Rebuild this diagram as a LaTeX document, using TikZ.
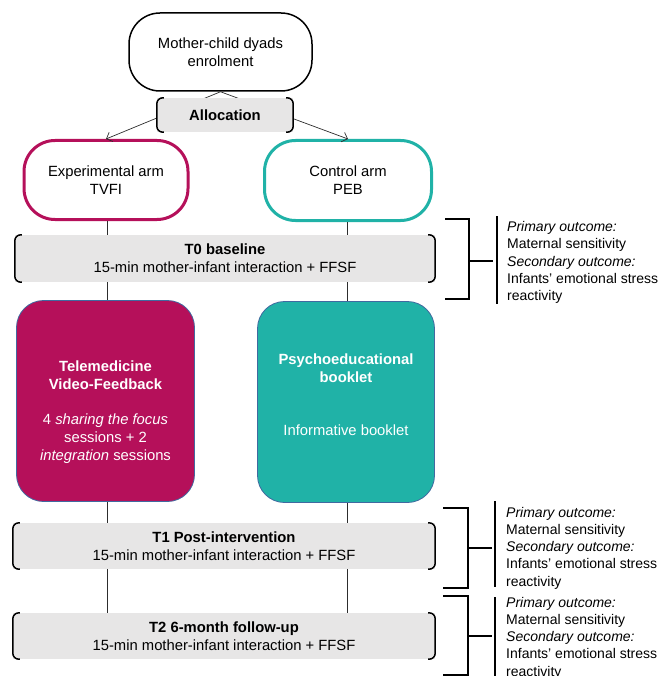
\documentclass[tikz,border=0pt]{standalone}
\usepackage{fontspec}
\setmainfont{Liberation Sans}
\usetikzlibrary{arrows.meta}
\definecolor{mag}{RGB}{181,16,90}
\definecolor{tealc}{RGB}{32,178,167}
\definecolor{outl}{RGB}{65,105,160}
\definecolor{gbg}{RGB}{231,230,230}
\definecolor{lin}{RGB}{45,45,45}
\newcommand\dbrk[1]{%
  \draw[brk] ([xshift=7pt]#1.north west) -- (#1.north west) -- (#1.south west) -- ([xshift=7pt]#1.south west);
  \draw[brk] ([xshift=-7pt]#1.north east) -- (#1.north east) -- (#1.south east) -- ([xshift=-7pt]#1.south east);}
\tikzset{
  mainfont/.style={font=\fontsize{14.8pt}{18pt}\selectfont},
  enrbox/.style={draw=black, line width=1.5pt, rounded corners=31pt, minimum width=183pt, minimum height=78pt, align=center, inner sep=0pt},
  armbox/.style={line width=3pt, rounded corners=31pt, minimum width=164pt, minimum height=79pt, align=center, inner sep=0pt},
  gbox/.style={fill=gbg, inner sep=0pt, align=center},
  brk/.style={line width=1.5pt, black, rounded corners=6pt},
  intbox/.style={draw=outl, line width=0.8pt, rounded corners=27pt, minimum width=178pt, minimum height=201pt, inner sep=0pt},
  wtxt/.style={text=white, align=center, inner sep=0pt},
  arr/.style={draw=lin, line width=0.7pt, -{Straight Barb[length=5pt,width=10pt]}},
  con/.style={draw=lin, line width=0.8pt},
  obrk/.style={line width=1.8pt, black},
  otxt/.style={anchor=west, align=left, inner sep=0pt, font=\fontsize{14pt}{17.2pt}\selectfont}
}
\begin{document}
\begin{tikzpicture}[x=1pt, y={(0pt,-1pt)}, mainfont]
\useasboundingbox (0,0) rectangle (662,676);
\clip (0,0) rectangle (662,676);
\coordinate (cl) at (107,0);
\coordinate (cr) at (347,0);

\node[enrbox] (enr) at (220.5,52) {Mother-child dyads\\enrolment};
\node[armbox, draw=mag] (exp) at (106,180) {Experimental arm\\TVFI};
\node[armbox, draw=tealc, minimum width=167pt, minimum height=80pt] (ctl) at (348,180.5) {Control arm\\PEB};

\draw[arr] (enr.south) -- (exp.north);
\draw[arr] (enr.south) -- (ctl.north);

\node[gbox, minimum width=136pt, minimum height=34pt] (alloc) at (225,115) {\textbf{Allocation}};
\dbrk{alloc}

\node[gbox, minimum width=420pt, minimum height=47pt] (t0) at (225,258.5) {\textbf{T0 baseline}\\15-min mother-infant interaction + FFSF};
\dbrk{t0}

\node[intbox, fill=mag] (tele) at (105.5,401) {};
\node[intbox, fill=tealc, minimum width=177pt] (psy) at (346,402) {};
\node[wtxt] (teletitle) at (105.5,375.5) {\textbf{Telemedicine}\\\textbf{Video-Feedback}};
\node[wtxt] (telebody) at (105.5,439) {4 \textit{sharing the focus}\\sessions + 2\\\textit{integration} sessions};
\node[wtxt] (psytitle) at (346,368) {\textbf{Psychoeducational}\\\textbf{booklet}};
\node[wtxt] (psybody) at (346,430) {Informative booklet};

\node[gbox, minimum width=422pt, minimum height=46pt] (t1) at (224,546) {\textbf{T1 Post-intervention}\\15-min mother-infant interaction + FFSF};
\dbrk{t1}
\node[gbox, minimum width=422pt, minimum height=46pt] (t2) at (224,636) {\textbf{T2 6-month follow-up}\\15-min mother-infant interaction + FFSF};
\dbrk{t2}

% vertical connectors
\draw[con] (exp.south -| cl) -- (t0.north -| cl);
\draw[con] (ctl.south -| cr) -- (t0.north -| cr);
\draw[con] (t0.south -| cl) -- (tele.north -| cl);
\draw[con] (t0.south -| cr) -- (psy.north -| cr);
\draw[con] (tele.south -| cl) -- (t1.north -| cl);
\draw[con] (psy.south -| cr) -- (t1.north -| cr);
\draw[con] (t1.south -| cl) -- (t2.north -| cl);
\draw[con] (t1.south -| cr) -- (t2.north -| cr);

% outcome brackets
\draw[obrk] (445,219) -- (469,219) -- (469,299) -- (445,299);
\draw[obrk] (469,261) -- (493,261);
\draw[obrk] (497,216) -- (497,304);
\node[otxt] (o1) at (507,262.5) {\textit{Primary outcome:}\\Maternal sensitivity\\\textit{Secondary outcome:}\\Infants’ emotional stress\\reactivity};

\draw[obrk] (443,508) -- (468,508) -- (468,588) -- (443,588);
\draw[obrk] (468,548) -- (492,548);
\draw[obrk] (495,501) -- (495,587);
\node[otxt] (o2) at (506,548) {\textit{Primary outcome:}\\Maternal sensitivity\\\textit{Secondary outcome:}\\Infants’ emotional stress\\reactivity};

\draw[obrk] (443,596) -- (468,596) -- (468,675) -- (443,675);
\draw[obrk] (468,636) -- (492,636);
\draw[obrk] (495,597) -- (495,690);
\node[otxt] (o3) at (506,638) {\textit{Primary outcome:}\\Maternal sensitivity\\\textit{Secondary outcome:}\\Infants’ emotional stress\\reactivity};
\end{tikzpicture}
\end{document}
